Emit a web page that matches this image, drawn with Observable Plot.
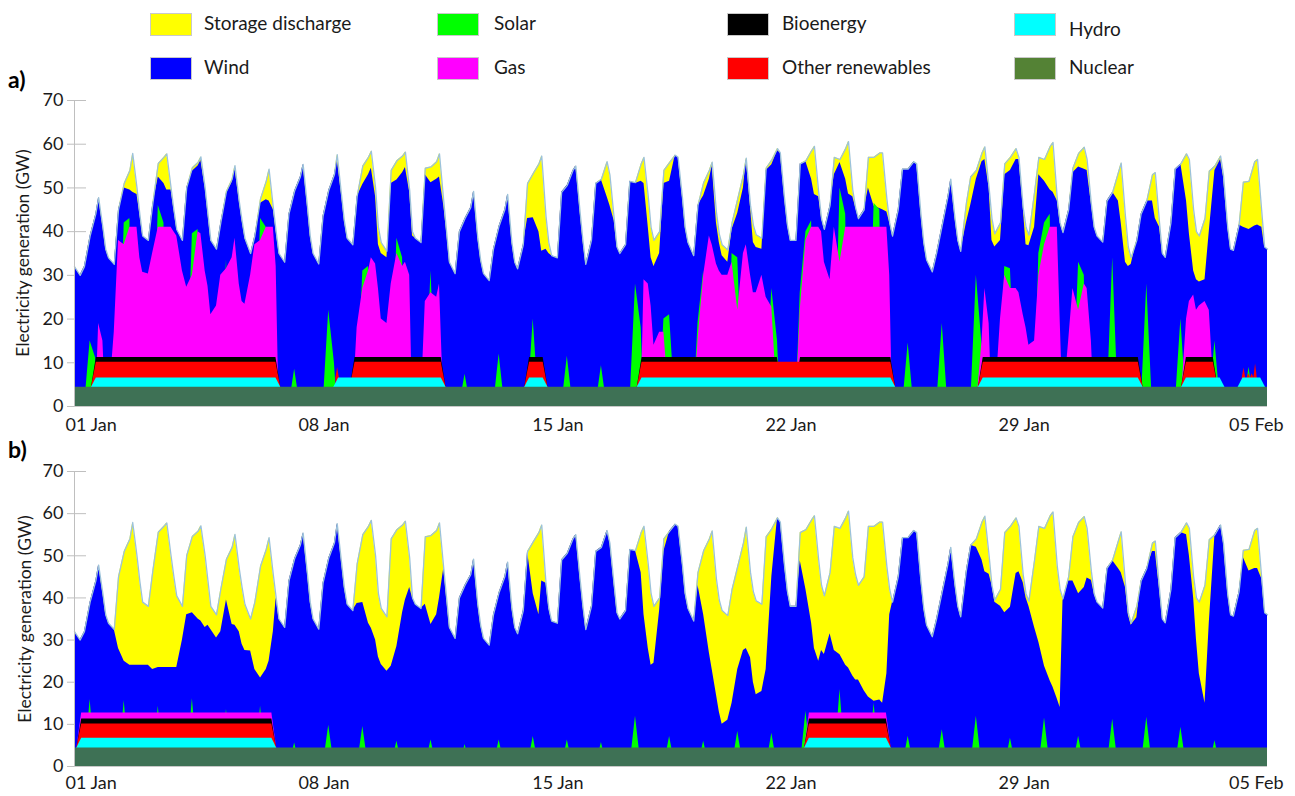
<!DOCTYPE html>
<html><head><meta charset="utf-8">
<script src="https://cdn.jsdelivr.net/npm/d3@7"></script>
<script src="https://cdn.jsdelivr.net/npm/@observablehq/plot@0.6"></script>
<style>
body{margin:0;background:#fff;font-family:Lato,"DejaVu Sans",sans-serif;}
#wrap{position:relative;width:1295px;height:796px;overflow:hidden;background:#fff;}
.sw{position:absolute;width:42px;height:23px;box-sizing:border-box;border:1px solid #c9c9c9;}
.lt{position:absolute;font-size:19px;line-height:19px;color:#1a1a1a;white-space:nowrap;}
.pl{position:absolute;font-weight:bold;font-size:23px;line-height:23px;color:#000;}
.yt{position:absolute;font-size:17.5px;color:#1a1a1a;white-space:nowrap;transform:translate(-50%,-50%) rotate(-90deg);}
.panel{position:absolute;left:0;}
</style></head><body><div id="wrap"></div>
<script>
// ---- time grid: days since 01 Jan 00:00, samples at these hours of each day ----
const hoursOfDay = [0, 4, 7, 11, 15, 17, 20, 22];
const nDays = 35;

// ---- total generation (top of the stack), GW, same in both panels ----
const demand = [
32,30,32,39,44,47.8,41,36,
34,32.5,45,51,54,57.9,50,44,
39,38,46,55.6,57,57.8,50,45,
40.5,38,50,54.6,55.8,57.1,50,44,
38,36,42,49.2,52,55.1,47,42.5,
38.5,35,39,47.5,51.5,54.3,45.5,40,
35,33,44,49.3,52.5,55.4,45.8,39,
35,32.6,43.5,49.4,53,57.6,48.5,42.5,
38.5,37,48,55,57,58.4,50,41,
37.5,35.5,54,56.2,57.3,58.2,49.5,40,
38.5,37.5,54.5,54.8,56,57.8,47,40,
33,30.4,40,43,45.5,49.2,38.5,33.5,
30.4,28.8,36,41.3,45,48.5,37.5,33,
31.5,37,51,53.3,55.5,57.3,43.5,37.5,
34.5,34,49,50.6,54,55,44.5,38,
32.5,38,51,52,56,53,43,36.5,
35,37,51.5,51.2,55.5,57,48,41,
38,40,54,55.8,57.5,57,48,41,
37.5,34.5,46,51.2,54,55.9,44.5,39.5,
37,35.8,42,47.5,53,56.8,46,41.5,
39.3,38.5,54.5,56.4,59,58,47.5,41.5,
38,38,55.5,56.2,58.5,59.5,49,43,
40.5,46,57,56.5,59,60.6,49.5,45.5,
43,45,57,57,58,58,47.5,42,
39,45,54.3,54.3,56,55.5,44,37.5,
33.5,30.8,35,41.5,48,52,43,38,
35.5,46.5,52.5,54,58,59.4,50,43,
39.5,42,55.5,57,59,57,45.5,41,
39.2,49,57,56.5,59.5,60.4,47.5,42,
39.8,45,54.5,57.9,59.3,56.5,46.3,41,
39,37.6,47,49,53.5,55.7,43.5,36.5,
34,38,44,47,53,53.5,42,35,
34.1,42,54.3,55.5,57.8,56.5,45,40,
39,43,53.8,55,57.3,53,41,36,
35.7,41.5,51.3,51.5,56,56.5,44.5,36.5,
36];

// ---- panel a: stacked levels (GW) ----
const windTopA = [
32,30,32,39,44,47.8,41,36,
34,32.5,45,50,49.5,49,48.5,44,
39,38,46,52.5,51,49.5,49.5,45,
40.5,38,50,53.8,55,56.3,50,44,
38,36,42,48.7,51.3,54.5,47,42.5,
38.5,35,39,46.5,47.3,47,45,40,
35,33,44,49.3,52.5,55.4,45.8,39,
35,32.6,43.5,49.4,53,56.5,48.5,42.5,
38.5,37,48,50.8,53,54.5,48,37,
35,34,51,51.8,53.5,54.7,49,39,
38.5,37.5,53,51.2,52,52.5,46,40,
33,30.4,40,43,45.5,49.2,38.5,33.5,
30.4,28.8,36,41.3,45,48.5,37.5,33,
31.5,37,43,43.2,40,35.5,36,35,
34.5,34,49,50.6,54,55,44.5,38,
32.5,38,51,51.8,48,46,42.5,36.5,
35,37,51.5,51,51.5,51,41,34,
32,35,51,51.5,57.5,57,48,41,
37.5,34.5,46,48.2,52,55,42,37.5,
34.5,33,40.5,44.2,50,56.5,45.5,37.5,
36.4,36,54,55.3,58.5,58,47.5,41.5,
38,38,55.5,56,52,48.5,48,43,
40.5,46,53,55.8,52,48.6,48,45.5,
43,45,50,45.8,45.3,45,44.5,42,
39,45,54.3,54.3,56,55.5,44,37.5,
33.5,30.8,35,41.5,48,52,43,38,
35.5,42,46,52,56,56.5,50,38,
36.5,38,53,54,56.5,56.5,45.5,37,
36.8,41,53,51.5,49.5,49,47,42,
39.8,45,53.5,54.8,54.3,54,46.3,41,
39,37.6,47,49,47,42,33,32,
32.5,38,44,47,47,43,41,35,
34.1,42,54.3,55.5,47,39.5,31,29,
28.5,29,40,54,56.5,52.5,41,36,
35.7,41.5,41,40.5,41.3,41.5,41,36.5,
36];

const solarTopA = [
0,0,0,15,11,0,0,0,
0,0,0,42,43,0,0,0,
0,0,0,46,42,0,0,0,
0,0,0,39.5,40.5,0,0,0,
0,0,0,33.5,0,0,0,0,
0,0,0,43,41,0,0,0,
0,0,0,8.5,0,0,0,0,
0,0,0,22,10,0,0,0,
0,0,0,31,32,0,0,0,
0,0,0,38.5,34,0,0,0,
0,0,0,31,0,0,0,0,
0,0,0,7.4,0,0,0,0,
0,0,0,12,0,0,0,0,
0,0,0,20,0,0,0,0,
0,0,0,11.5,0,0,0,0,
0,0,0,9.3,0,0,0,0,
0,0,0,28,18,0,0,0,
0,0,20,21,0,0,0,0,
0,0,19,31,0,0,0,0,
0,0,35,34,0,0,0,0,
0,0,0,27,15,0,0,0,
0,0,26,40,42.5,0,0,0,
0,0,0,50,44,0,0,0,
0,0,0,46.5,45,0,0,0,
0,0,0,14.5,0,0,0,0,
0,0,0,19,0,0,0,0,
0,0,0,30,14,0,0,0,
0,0,32,31.5,0,0,0,0,
0,0,35,42,44,0,0,0,
0,0,0,33,30,0,0,0,
0,0,0,34,0,0,0,0,
0,0,0,28,0,0,0,0,
0,0,0,20,0,0,0,0,
0,0,0,15,0,0,0,0,
0,0,0,9,0,0,0,0,
0];

const gasTopA = [
0,0,0,0,0,19,15,0,
0,17,38,37,41,41,41,34,
30.7,30.3,35,41,41,41,41,40,
39,31,27.3,30,40,39.5,31,27.5,
21,23,30,31.5,34,38.5,28,24,
23.4,30,37,38,41,41,41,32,
0,0,0,0,0,0,0,0,
0,0,0,0,0,0,0,0,
0,0,18,27,31,34,32.6,27,
20,19,28,35,32,33,30,0,
0,0,24,26,25,28,0,0,
0,0,0,0,0,0,0,0,
0,0,0,0,0,0,0,0,
0,0,0,0,0,0,0,0,
0,0,0,0,0,0,0,0,
0,0,0,0,0,0,0,0,
0,0,0,0,0,29,28,23,
14,17,17,0,0,0,0,0,
0,0,15,30,39,37,32.6,31,
30,30,33,22,35,37,30,26,
26,30,25,22.7,0,0,0,0,
0,0,22,38,41,41,41,40,
33,29,41,33,41,41,41,41,
41,41,41,41,41,41,41,30,
0,0,0,0,0,0,0,0,
0,0,0,0,0,0,0,0,
0,0,0,0,15,27,19,0,
0,20,30,27,27,26,21,18,
14,15,30,37,41,41,41,20,
0,15,27,22,28,27,15,0,
0,0,0,0,0,0,0,0,
0,0,0,0,0,0,0,0,
0,0,0,0,20,24,25.5,22,
23,24,22,0,0,0,0,0,
0,0,0,0,0,0,0,0,
0];

// periods (day from 01 Jan) when the steady layers run, and their stacked tops (GW)
const nuclearA = 4.4;
const levelsA = {hydro: 6.5, other: 10.1, bio: 11.2};
const hydroPeriodsA = [[0.57,5.98],[7.68,10.83],[13.28,13.82],[16.58,24.02],[26.59,31.28],[32.55,33.68],[34.21,34.87]];
const otherPeriodsA = [[0.57,5.98],[8.16,10.83],[13.28,13.82],[16.58,24.02],[26.59,31.28],[32.55,33.48]];
const bioPeriodsA   = [[0.57,5.98],[8.16,10.83],[13.28,13.82],[16.58,20.69],[21.23,24.02],[26.59,31.28],[32.55,33.48]];
const otherPeaksA = [[7.72,8.9],[34.31,8.8],[34.45,7.5],[34.55,7.5],[34.65,9.7]];

// ---- panel b ----
const windTopB = [
32,30,32,39,44,47.8,41,36,
34,32.5,28,25,24,24,24,24,
24,24,23,23.5,23.5,23.5,23.5,23.5,
23.5,30,36,36.5,35,34.5,33,33.5,
32.5,30.5,32,39.5,33.7,33.5,32,29,
27.5,27.4,23,21,23,25,32,40,
35,33,44,49.3,52.5,55.4,45.8,39,
35,32.6,43.5,49.4,53,57.6,48.5,42.5,
38.5,37,38.7,38.9,34,32.8,30,26,
24.2,22.6,23.8,28.5,36.5,39.5,42.5,40,
38.5,37.5,38.5,33.7,36,40,47,40,
33,30.4,40,43,45.5,49.2,38.5,33.5,
30.4,28.8,36,41.3,45,48.5,37.5,33,
31.5,37,51,41,36,44,43.5,37.5,
34.5,34,49,50.6,54,55,44.5,38,
32.5,38,51,52,56,53,43,36.5,
35,37,51.5,51.2,46,36,28,24,
24.5,37,51,55.8,57.5,57,48,41,
37.5,34.5,43,36,27,23,17,13,
10,11,15,23,27.5,28,25.8,20,
17,17.8,23,45,59,58,47.5,41.5,
38,38,48.8,42,34,28,25,27.5,
26.6,31.5,27.5,26.5,24,23.4,21.5,20.5,
20.5,18,16.5,15.5,15.8,15,22,36,
39,45,54.3,54.3,56,55.5,44,37.5,
33.5,30.8,35,41.5,48,52,43,38,
35.5,46.5,52.5,52,49,46.2,45.6,43,
39,38,36.5,37.8,45.8,46.2,43.6,40,
38,33,29.5,23.8,20.3,18.8,16,14,
39.3,44,44,41,42.5,44.7,44.2,41,
39,37.6,47,48.8,47,46,42.5,36,
33.5,35.3,44,47,51,51,42,35,
34.1,42,54.3,55.5,55,50,40,30,
22,15,34,55,57.3,53,41,36,
35.7,41.5,49.6,46.4,47,47,44.5,36.5,
36];

const solarTopB = [
0,0,0,15.9,0,0,0,0,
0,0,0,15.6,0,0,0,0,
0,0,0,14.3,0,0,0,0,
0,0,0,16.1,0,0,0,0,
0,0,0,13.5,0,0,0,0,
0,0,0,14.3,0,0,0,0,
0,0,0,5.6,0,0,0,0,
0,0,0,9.8,0,0,0,0,
0,0,0,9.5,0,0,0,0,
0,0,0,6,0,0,0,0,
0,0,0,6.3,0,0,0,0,
0,0,0,5.2,0,0,0,0,
0,0,0,6.3,0,0,0,0,
0,0,0,7.1,0,0,0,0,
0,0,0,6.3,0,0,0,0,
0,0,0,5.7,0,0,0,0,
0,0,0,11.9,0,0,0,0,
0,0,0,7.1,0,0,0,0,
0,0,0,6,0,0,0,0,
0,0,0,8.3,0,0,0,0,
0,0,0,7.9,0,0,0,0,
0,0,0,13.1,0,0,0,0,
0,0,0,18.3,0,0,0,0,
0,0,0,15,0,0,0,0,
0,0,0,7.2,0,0,0,0,
0,0,0,8.7,0,0,0,0,
0,0,0,11.9,0,0,0,0,
0,0,0,6.7,0,0,0,0,
0,0,0,11.5,0,0,0,0,
0,0,0,7.2,0,0,0,0,
0,0,0,11.2,0,0,0,0,
0,0,0,11.7,0,0,0,0,
0,0,0,9.3,0,0,0,0,
0,0,0,6.1,0,0,0,0,
0,0,0,0,0,0,0,0,
0];

const nuclearB = 4.4;
const levelsB = {hydro: 6.7, other: 10.1, bio: 11.3, gas: 12.7};
const steadyPeriodsB = [[0.14,5.86],[21.49,23.89]];

// ---- axes & legend ----
const yTicks = [0, 10, 20, 30, 40, 50, 60, 70];
const tickDays = [0.49, 7.32, 14.18, 21.02, 27.86, 34.67];
const tickLabels = ["01 Jan", "08 Jan", "15 Jan", "22 Jan", "29 Jan", "05 Feb"];
const legendRow1 = ["Storage discharge", "Solar", "Bioenergy", "Hydro"];
const legendRow2 = ["Wind", "Gas", "Other renewables", "Nuclear"];
const colors = {
  "Storage discharge": "#ffff00", "Solar": "#00ff00", "Bioenergy": "#000000", "Hydro": "#00ffff",
  "Wind": "#0000ff", "Gas": "#ff00ff", "Other renewables": "#ff0000", "Nuclear": "#548235"
};
const nuclearAreaColor = "#3e7155";

// ---- build ----
const times = [];
for (let d = 0; d < nDays; d++) for (const h of hoursOfDay) times.push(d + h / 24);
times.push(nDays);
const labelOf = new Map(tickDays.map((d, i) => [d, tickLabels[i]]));

function steadyShape(periods, base, top, ramp = 0.07) {
  return periods.flatMap(([a, b], k) => [
    {t: a - ramp, y: base, k}, {t: a + ramp, y: top, k},
    {t: b - ramp, y: top, k}, {t: b + ramp, y: base, k}
  ]);
}
function peakShape(peaks, base, half = 0.05) {
  return peaks.flatMap(([d, v], k) => [{t: d - half, y: base, k}, {t: d, y: v, k}, {t: d + half, y: base, k}]);
}

function makePanel(cfg) {
  const table = times.map((t, i) => ({
    t, T: demand[i], W: cfg.wind[i], S: cfg.solar[i], G: cfg.gas ? cfg.gas[i] : 0
  }));
  const area = (data, y2, fill, z) => Plot.areaY(data, {x: "t", y1: 0, y2, fill, z, curve: "linear"});
  const marks = [
    Plot.axisY(yTicks, {tickSize: 19, dx: 12, tickFormat: () => "", stroke: "#bfbfbf", label: null}),
    area(table, "T", colors["Storage discharge"]),
    area(table, "W", colors["Wind"]),
    area(table, "S", colors["Solar"]),
    area(table, "G", colors["Gas"])
  ];
  if (cfg.gasPeriods) marks.push(area(steadyShape(cfg.gasPeriods, cfg.nuclear, cfg.levels.gas), "y", colors["Gas"], "k"));
  marks.push(area(steadyShape(cfg.bioPeriods, cfg.nuclear, cfg.levels.bio), "y", colors["Bioenergy"], "k"));
  marks.push(area(steadyShape(cfg.otherPeriods, cfg.nuclear, cfg.levels.other), "y", colors["Other renewables"], "k"));
  if (cfg.otherPeaks) marks.push(area(peakShape(cfg.otherPeaks, cfg.levels.hydro), "y", colors["Other renewables"], "k"));
  marks.push(area(steadyShape(cfg.hydroPeriods, cfg.nuclear, cfg.levels.hydro), "y", colors["Hydro"], "k"));
  marks.push(
    Plot.areaY(table, {x: "t", y1: 0, y2: cfg.nuclear, fill: nuclearAreaColor}),
    Plot.line(table, {x: "t", y: "T", stroke: "#9cc2da", strokeWidth: 1.3}),
    Plot.ruleX([0], {stroke: "#bfbfbf"}),
    Plot.ruleY([0], {stroke: "#c8c8c8"}),
    Plot.axisY(yTicks, {tickSize: 0, tickPadding: 11, fill: "#1a1a1a", label: null}),
    Plot.axisX(tickDays, {tickSize: 0, tickPadding: cfg.xPad, tickFormat: d => labelOf.get(d), fill: "#1a1a1a", label: null})
  );
  return Plot.plot({
    width: 1295, height: cfg.height,
    marginLeft: 74, marginRight: 28, marginTop: cfg.marginTop, marginBottom: cfg.marginBottom,
    style: {fontFamily: "Lato, sans-serif", fontSize: "18px", color: "#1a1a1a", background: "transparent", overflow: "visible"},
    x: {domain: [0, nDays], label: null},
    y: {domain: [0, 70], label: null},
    marks
  });
}

const wrap = document.getElementById("wrap");
function addDiv(cls, text, css) {
  const el = document.createElement("div");
  el.className = cls; if (text != null) el.textContent = text;
  Object.assign(el.style, css); wrap.appendChild(el); return el;
}

// legend
const colSw = [150, 437, 727, 1014], colTx = [204, 494, 782, 1069];
legendRow1.forEach((name, i) => {
  addDiv("sw", null, {left: colSw[i] + "px", top: "13px", background: colors[name]});
  addDiv("lt", name, {left: colTx[i] + "px", top: (name === "Hydro" ? 19 : 13) + "px"});
});
legendRow2.forEach((name, i) => {
  addDiv("sw", null, {left: colSw[i] + "px", top: "57px", background: colors[name]});
  addDiv("lt", name, {left: colTx[i] + "px", top: "57px"});
});

// panel a
const svgA = makePanel({
  wind: windTopA, solar: solarTopA, gas: gasTopA, nuclear: nuclearA, levels: levelsA,
  hydroPeriods: hydroPeriodsA, otherPeriods: otherPeriodsA, bioPeriods: bioPeriodsA, otherPeaks: otherPeaksA,
  height: 350, marginTop: 10, marginBottom: 34, xPad: 12
});
const pa = addDiv("panel", null, {top: "90px"}); pa.appendChild(svgA);
addDiv("pl", "a)", {left: "8px", top: "68px"});
addDiv("yt", "Electricity generation (GW)", {left: "22px", top: "253px"});

// panel b
const svgB = makePanel({
  wind: windTopB, solar: solarTopB, gas: null, nuclear: nuclearB, levels: levelsB,
  gasPeriods: steadyPeriodsB, hydroPeriods: steadyPeriodsB, otherPeriods: steadyPeriodsB, bioPeriods: steadyPeriodsB,
  height: 335, marginTop: 10, marginBottom: 30, xPad: 10
});
const pb = addDiv("panel", null, {top: "461px"}); pb.appendChild(svgB);
addDiv("pl", "b)", {left: "8px", top: "438px"});
addDiv("yt", "Electricity generation (GW)", {left: "24px", top: "619px"});
</script></body></html>
